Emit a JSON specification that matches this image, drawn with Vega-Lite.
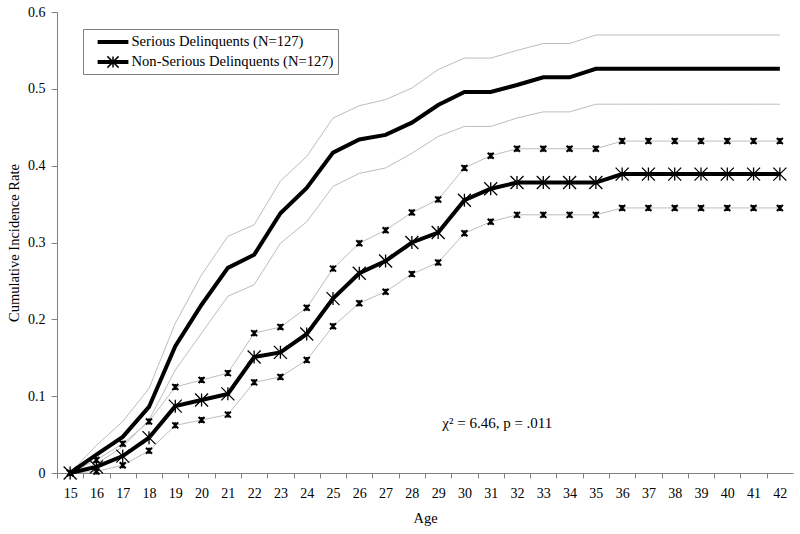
{
  "$schema": "https://vega.github.io/schema/vega-lite/v6.json",
  "width": 736,
  "height": 461,
  "autosize": "none",
  "padding": {"left": 57, "top": 12, "right": 7, "bottom": 61},
  "background": "white",
  "config": {
    "font": "Liberation Serif",
    "view": {"stroke": null},
    "axis": {
      "grid": false,
      "domainColor": "#808080",
      "tickColor": "#808080",
      "labelColor": "black",
      "labelFont": "Liberation Serif",
      "titleFont": "Liberation Serif",
      "labelFontSize": 14,
      "titleFontSize": 14.5,
      "titleFontWeight": "normal",
      "titleColor": "black",
      "tickSize": 5
    }
  },
  "datasets": {
    "rates": [
      {"age": 15, "group": "Serious Delinquents (N=127)", "est": 0, "lo": 0, "hi": 0},
      {"age": 16, "group": "Serious Delinquents (N=127)", "est": 0.024, "lo": 0.012, "hi": 0.036},
      {"age": 17, "group": "Serious Delinquents (N=127)", "est": 0.047, "lo": 0.034, "hi": 0.067},
      {"age": 18, "group": "Serious Delinquents (N=127)", "est": 0.086, "lo": 0.069, "hi": 0.110},
      {"age": 19, "group": "Serious Delinquents (N=127)", "est": 0.165, "lo": 0.134, "hi": 0.195},
      {"age": 20, "group": "Serious Delinquents (N=127)", "est": 0.219, "lo": 0.182, "hi": 0.258},
      {"age": 21, "group": "Serious Delinquents (N=127)", "est": 0.267, "lo": 0.230, "hi": 0.308},
      {"age": 22, "group": "Serious Delinquents (N=127)", "est": 0.284, "lo": 0.245, "hi": 0.323},
      {"age": 23, "group": "Serious Delinquents (N=127)", "est": 0.338, "lo": 0.299, "hi": 0.380},
      {"age": 24, "group": "Serious Delinquents (N=127)", "est": 0.371, "lo": 0.327, "hi": 0.412},
      {"age": 25, "group": "Serious Delinquents (N=127)", "est": 0.417, "lo": 0.373, "hi": 0.462},
      {"age": 26, "group": "Serious Delinquents (N=127)", "est": 0.434, "lo": 0.390, "hi": 0.478},
      {"age": 27, "group": "Serious Delinquents (N=127)", "est": 0.440, "lo": 0.397, "hi": 0.486},
      {"age": 28, "group": "Serious Delinquents (N=127)", "est": 0.456, "lo": 0.416, "hi": 0.501},
      {"age": 29, "group": "Serious Delinquents (N=127)", "est": 0.479, "lo": 0.438, "hi": 0.525},
      {"age": 30, "group": "Serious Delinquents (N=127)", "est": 0.496, "lo": 0.451, "hi": 0.540},
      {"age": 31, "group": "Serious Delinquents (N=127)", "est": 0.496, "lo": 0.451, "hi": 0.540},
      {"age": 32, "group": "Serious Delinquents (N=127)", "est": 0.505, "lo": 0.462, "hi": 0.550},
      {"age": 33, "group": "Serious Delinquents (N=127)", "est": 0.515, "lo": 0.470, "hi": 0.559},
      {"age": 34, "group": "Serious Delinquents (N=127)", "est": 0.515, "lo": 0.470, "hi": 0.559},
      {"age": 35, "group": "Serious Delinquents (N=127)", "est": 0.526, "lo": 0.480, "hi": 0.570},
      {"age": 36, "group": "Serious Delinquents (N=127)", "est": 0.526, "lo": 0.480, "hi": 0.570},
      {"age": 37, "group": "Serious Delinquents (N=127)", "est": 0.526, "lo": 0.480, "hi": 0.570},
      {"age": 38, "group": "Serious Delinquents (N=127)", "est": 0.526, "lo": 0.480, "hi": 0.570},
      {"age": 39, "group": "Serious Delinquents (N=127)", "est": 0.526, "lo": 0.480, "hi": 0.570},
      {"age": 40, "group": "Serious Delinquents (N=127)", "est": 0.526, "lo": 0.480, "hi": 0.570},
      {"age": 41, "group": "Serious Delinquents (N=127)", "est": 0.526, "lo": 0.480, "hi": 0.570},
      {"age": 42, "group": "Serious Delinquents (N=127)", "est": 0.526, "lo": 0.480, "hi": 0.570},
      {"age": 15, "group": "Non-Serious Delinquents (N=127)", "est": 0, "lo": 0, "hi": 0},
      {"age": 16, "group": "Non-Serious Delinquents (N=127)", "est": 0.008, "lo": 0.002, "hi": 0.017},
      {"age": 17, "group": "Non-Serious Delinquents (N=127)", "est": 0.022, "lo": 0.010, "hi": 0.038},
      {"age": 18, "group": "Non-Serious Delinquents (N=127)", "est": 0.046, "lo": 0.029, "hi": 0.067},
      {"age": 19, "group": "Non-Serious Delinquents (N=127)", "est": 0.087, "lo": 0.062, "hi": 0.112},
      {"age": 20, "group": "Non-Serious Delinquents (N=127)", "est": 0.095, "lo": 0.069, "hi": 0.121},
      {"age": 21, "group": "Non-Serious Delinquents (N=127)", "est": 0.103, "lo": 0.076, "hi": 0.130},
      {"age": 22, "group": "Non-Serious Delinquents (N=127)", "est": 0.151, "lo": 0.118, "hi": 0.182},
      {"age": 23, "group": "Non-Serious Delinquents (N=127)", "est": 0.157, "lo": 0.125, "hi": 0.190},
      {"age": 24, "group": "Non-Serious Delinquents (N=127)", "est": 0.181, "lo": 0.147, "hi": 0.215},
      {"age": 25, "group": "Non-Serious Delinquents (N=127)", "est": 0.227, "lo": 0.191, "hi": 0.266},
      {"age": 26, "group": "Non-Serious Delinquents (N=127)", "est": 0.260, "lo": 0.221, "hi": 0.299},
      {"age": 27, "group": "Non-Serious Delinquents (N=127)", "est": 0.276, "lo": 0.236, "hi": 0.316},
      {"age": 28, "group": "Non-Serious Delinquents (N=127)", "est": 0.300, "lo": 0.259, "hi": 0.339},
      {"age": 29, "group": "Non-Serious Delinquents (N=127)", "est": 0.313, "lo": 0.274, "hi": 0.356},
      {"age": 30, "group": "Non-Serious Delinquents (N=127)", "est": 0.355, "lo": 0.312, "hi": 0.397},
      {"age": 31, "group": "Non-Serious Delinquents (N=127)", "est": 0.370, "lo": 0.327, "hi": 0.413},
      {"age": 32, "group": "Non-Serious Delinquents (N=127)", "est": 0.378, "lo": 0.336, "hi": 0.422},
      {"age": 33, "group": "Non-Serious Delinquents (N=127)", "est": 0.378, "lo": 0.336, "hi": 0.422},
      {"age": 34, "group": "Non-Serious Delinquents (N=127)", "est": 0.378, "lo": 0.336, "hi": 0.422},
      {"age": 35, "group": "Non-Serious Delinquents (N=127)", "est": 0.378, "lo": 0.336, "hi": 0.422},
      {"age": 36, "group": "Non-Serious Delinquents (N=127)", "est": 0.389, "lo": 0.345, "hi": 0.432},
      {"age": 37, "group": "Non-Serious Delinquents (N=127)", "est": 0.389, "lo": 0.345, "hi": 0.432},
      {"age": 38, "group": "Non-Serious Delinquents (N=127)", "est": 0.389, "lo": 0.345, "hi": 0.432},
      {"age": 39, "group": "Non-Serious Delinquents (N=127)", "est": 0.389, "lo": 0.345, "hi": 0.432},
      {"age": 40, "group": "Non-Serious Delinquents (N=127)", "est": 0.389, "lo": 0.345, "hi": 0.432},
      {"age": 41, "group": "Non-Serious Delinquents (N=127)", "est": 0.389, "lo": 0.345, "hi": 0.432},
      {"age": 42, "group": "Non-Serious Delinquents (N=127)", "est": 0.389, "lo": 0.345, "hi": 0.432}
    ],
    "note": [
      {"age": 31.25, "value": 0.065, "label": "χ² = 6.46, p = .011"}
    ]
  },
  "encoding": {
    "x": {
      "field": "age",
      "type": "quantitative",
      "scale": {"domain": [14.5, 42.5], "nice": false, "zero": false},
      "axis": {
        "title": "Age",
        "values": [15, 16, 17, 18, 19, 20, 21, 22, 23, 24, 25, 26, 27, 28, 29, 30, 31, 32, 33, 34, 35, 36, 37, 38, 39, 40, 41, 42, 43],
        "labelExpr": "datum.value > 42 ? '' : datum.label",
        "tickOffset": -13.14,
        "labelOffset": 13.14,
        "labelPadding": 8,
        "titlePadding": 11,
        "labelFlush": false,
        "labelOverlap": false
      }
    }
  },
  "layer": [
    {
      "data": {"name": "rates"},
      "transform": [{"fold": ["lo", "hi"], "as": ["bound", "val"]}],
      "mark": {"type": "line", "color": "#bdbdbd", "strokeWidth": 1},
      "encoding": {
        "y": {
          "field": "val",
          "type": "quantitative",
          "scale": {"domain": [0, 0.6], "nice": false},
          "axis": {
            "title": "Cumulative Incidence Rate",
            "values": [0, 0.1, 0.2, 0.3, 0.4, 0.5, 0.6],
            "labelExpr": "datum.value == 0 ? '0' : format(datum.value, '.1f')",
            "tickSize": 6,
            "labelPadding": 6,
            "titlePadding": 6
          }
        },
        "detail": [{"field": "group"}, {"field": "bound"}]
      }
    },
    {
      "data": {"name": "rates"},
      "transform": [
        {"filter": "datum.group == 'Non-Serious Delinquents (N=127)'"},
        {"fold": ["lo", "hi"], "as": ["bound", "val"]}
      ],
      "mark": {"type": "point", "shape": "M-1,-1L1,1M-1,1L1,-1M0,-1L0,1", "filled": false, "color": "black", "strokeWidth": 2, "size": 36, "opacity": 1},
      "encoding": {
        "y": {"field": "val", "type": "quantitative"}
      }
    },
    {
      "data": {"name": "rates"},
      "mark": {"type": "line", "color": "black", "strokeWidth": 4},
      "encoding": {
        "y": {"field": "est", "type": "quantitative"},
        "detail": {"field": "group"}
      }
    },
    {
      "data": {"name": "rates"},
      "transform": [{"filter": "datum.group == 'Non-Serious Delinquents (N=127)'"}],
      "mark": {"type": "point", "shape": "M-1,-1L1,1M-1,1L1,-1M0,-1L0,1", "filled": false, "color": "black", "strokeWidth": 1.3, "size": 169, "opacity": 1},
      "encoding": {
        "y": {"field": "est", "type": "quantitative"}
      }
    },
    {
      "data": {"name": "rates"},
      "mark": {"type": "point", "filled": false, "opacity": 0},
      "encoding": {
        "y": {"field": "est", "type": "quantitative"},
        "shape": {
          "field": "group",
          "type": "nominal",
          "scale": {
            "domain": ["Serious Delinquents (N=127)", "Non-Serious Delinquents (N=127)"],
            "range": ["M-2.2,0L2.2,0", "M-2.2,0L2.2,0"]
          },
          "legend": {
            "title": null,
            "orient": "none",
            "legendX": 26,
            "legendY": 17,
            "direction": "vertical",
            "strokeColor": "#808080",
            "fillColor": "transparent",
            "padding": 4,
            "rowPadding": 3,
            "symbolSize": 196,
            "symbolStrokeWidth": 4,
            "symbolStrokeColor": "black",
            "symbolFillColor": "transparent",
            "symbolOpacity": 1,
            "symbolOffset": 17,
            "labelOffset": 9.5,
            "labelFont": "Liberation Serif",
            "labelFontSize": 14.6,
            "labelColor": "black",
            "labelLimit": 400
          }
        }
      }
    },
    {
      "data": {"name": "rates"},
      "mark": {"type": "point", "filled": false, "opacity": 0},
      "encoding": {
        "y": {"field": "est", "type": "quantitative"},
        "stroke": {
          "field": "group",
          "type": "nominal",
          "sort": ["Serious Delinquents (N=127)", "Non-Serious Delinquents (N=127)"],
          "scale": {"range": ["transparent", "black"]},
          "legend": {
            "title": null,
            "orient": "none",
            "legendX": 26,
            "legendY": 17,
            "direction": "vertical",
            "strokeColor": "transparent",
            "fillColor": "transparent",
            "padding": 4,
            "rowPadding": 3,
            "symbolType": "M-0.8,-0.8L0.8,0.8M-0.8,0.8L0.8,-0.8M0,-0.8L0,0.8",
            "symbolSize": 196,
            "symbolStrokeWidth": 1.5,
            "symbolFillColor": "transparent",
            "symbolOpacity": 1,
            "symbolOffset": 18,
            "labelOffset": 9.5,
            "labelFont": "Liberation Serif",
            "labelFontSize": 14.6,
            "labelColor": "transparent",
            "labelLimit": 400
          }
        }
      }
    },
    {
      "data": {"name": "note"},
      "mark": {"type": "text", "font": "Liberation Serif", "fontSize": 15, "color": "black", "align": "center", "baseline": "middle"},
      "encoding": {
        "y": {"field": "value", "type": "quantitative"},
        "text": {"field": "label"}
      }
    }
  ]
}
